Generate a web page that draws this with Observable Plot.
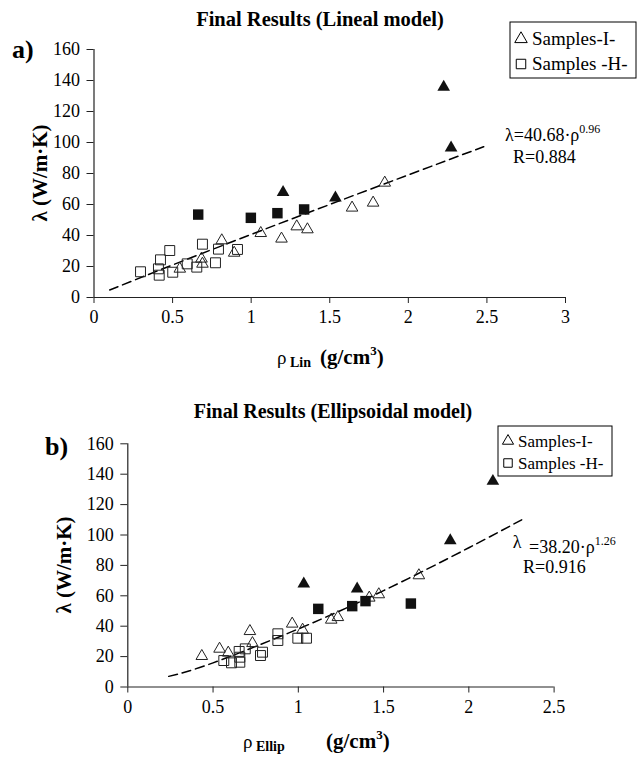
<!DOCTYPE html>
<html>
<head>
<meta charset="utf-8">
<script src="https://cdn.jsdelivr.net/npm/d3@7"></script>
<script src="https://cdn.jsdelivr.net/npm/@observablehq/plot@0.6"></script>
<style>
  html, body { margin: 0; padding: 0; background: #fff; }
  svg { display: block; }
</style>
</head>
<body>
<div id="c"></div>
<script>
// ---------- data ----------
const ticksY = [0, 20, 40, 60, 80, 100, 120, 140, 160];
const ticksXLin = [0, 0.5, 1, 1.5, 2, 2.5, 3];
const ticksXEll = [0, 0.5, 1, 1.5, 2, 2.5];

// (a) Lineal model
const linOpenTri = [[0.546,18.5],[0.684,25],[0.69,21.7],[0.813,36.8],[0.892,28.8],[1.061,41.5],[1.193,37.9],[1.29,45.8],[1.358,43.9],[1.642,57.9],[1.776,61.1],[1.85,74]];
const linFilledTri = [[1.203,67.9],[1.536,64.3],[2.225,135.7],[2.272,96.6]];
const linOpenSq = [[0.296,16.6],[0.41,18.5],[0.415,14.4],[0.423,24.3],[0.482,30.3],[0.501,16.3],[0.593,21.7],[0.654,19.6],[0.69,34.4],[0.773,22.4],[0.792,31.2],[0.913,31]];
const linFilledSq = [[0.663,53.5],[0.998,51.4],[1.167,54.4],[1.337,56.8]];
const linFit = [[0.1,4.8],[0.5,21],[1,40.7],[1.5,60],[2,79.1],[2.48,97.3]];

// (b) Ellipsoidal model
const ellOpenTri = [[0.434,20.3],[0.538,25.1],[0.589,22.5],[0.716,36.7],[0.731,28.8],[0.964,41.6],[1.025,37.6],[1.193,44.2],[1.232,45.9],[1.416,58.7],[1.472,60.9],[1.707,73.4]];
const ellFilledTri = [[1.032,67.9],[1.345,64.6],[1.891,96.4],[2.141,135.4]];
const ellOpenSq = [[0.563,17.4],[0.608,15.9],[0.653,23.4],[0.657,19.6],[0.657,16.3],[0.689,25.1],[0.778,20.7],[0.79,22.9],[0.88,35],[0.88,30.6],[0.997,32.1],[1.048,32.1]];
const ellFilledSq = [[1.117,51.4],[1.316,53.2],[1.394,56.5],[1.66,54.9]];
const ellFit = [[0.24,7],[0.5,15.9],[1,38.2],[1.5,63.4],[2,91.6],[2.31,110]];

const legendLabels = ["Samples-I-", "Samples -H-"];

const SERIF = "'Liberation Serif', 'Times New Roman', serif";

function panel(cfg) {
  const X = d => d[0], Y = d => d[1];
  return Plot.plot({
    width: 637,
    height: cfg.height,
    marginTop: cfg.mt, marginBottom: cfg.mb, marginLeft: cfg.ml, marginRight: cfg.mr,
    style: { fontFamily: SERIF, fontSize: "18px", color: "#000", background: "#fff", overflow: "visible" },
    x: { domain: [0, cfg.xmax] },
    y: { domain: [0, 160] },
    marks: [
      Plot.axisX({ ticks: cfg.xticks, tickSize: 6, tickPadding: 7, tickFormat: d => String(d), label: null, stroke: "#222", fill: "#000" }),
      Plot.axisY({ ticks: ticksY, tickSize: 7, tickPadding: 7, tickFormat: d => String(d), label: null, stroke: "#222", fill: "#000" }),
      Plot.ruleY([0], { stroke: "#222", strokeWidth: 1.2 }),
      Plot.ruleX([0], { stroke: "#222", strokeWidth: 1.2 }),
      Plot.line(cfg.fit, { x: X, y: Y, curve: "natural", stroke: "#000", strokeWidth: 1.5, strokeDasharray: "9,5" }),
      Plot.dot(cfg.openSq, { x: X, y: Y, symbol: "square", r: 5.6, stroke: "#222", strokeWidth: 1, fill: "none" }),
      Plot.dot(cfg.openTri, { x: X, y: Y, symbol: "triangle", r: 4.3, stroke: "#222", strokeWidth: 1, fill: "none" }),
      Plot.dot(cfg.filledSq, { x: X, y: Y, symbol: "square", r: 5.9, fill: "#111", stroke: "none" }),
      Plot.dot(cfg.filledTri, { x: X, y: Y, symbol: "triangle", r: 4.7, fill: "#111", stroke: "none" })
    ]
  });
}

function addText(svg, x, y, parts, anchor) {
  const t = svg.append("text")
    .attr("x", x).attr("y", y)
    .attr("text-anchor", anchor || "start")
    .attr("font-family", SERIF)
    .attr("fill", "#000");
  parts.forEach(p => {
    const s = t.append("tspan").text(p.t)
      .attr("font-size", p.size || 18)
      .attr("font-weight", p.bold ? "bold" : "normal");
    if (p.dy) s.attr("dy", p.dy);
    if (p.x != null) s.attr("x", p.x);
  });
  return t;
}

function addLegend(svg, bx, by, bw, bh, rows, fontSize, symX, textX, symSize) {
  svg.append("rect").attr("x", bx).attr("y", by).attr("width", bw).attr("height", bh)
    .attr("fill", "#fff").attr("stroke", "#000").attr("stroke-width", 1);
  const tri = d3.symbol(d3.symbolTriangle, symSize * 0.75)();
  const sq = d3.symbol(d3.symbolSquare, symSize)();
  [tri, sq].forEach((path, i) => {
    svg.append("path").attr("d", path)
      .attr("transform", `translate(${symX},${rows[i]})`)
      .attr("fill", "none").attr("stroke", "#000").attr("stroke-width", 1);
    svg.append("text").attr("x", textX).attr("y", rows[i]).attr("dy", "0.34em")
      .attr("text-anchor", "start")
      .attr("font-family", SERIF).attr("font-size", fontSize).attr("fill", "#000")
      .text(legendLabels[i]);
  });
}

function yLabel(svg, x, y) {
  svg.append("text")
    .attr("transform", `translate(${x},${y}) rotate(-90)`)
    .attr("text-anchor", "middle").attr("dy", "0.35em")
    .attr("font-family", SERIF).attr("font-size", 21).attr("font-weight", "bold")
    .attr("fill", "#000")
    .text("λ (W/m·K)");
}

const root = document.getElementById("c");

// ---------- panel (a) ----------
const topH = 380;
const chartA = panel({
  height: topH, mt: 49, mb: topH - 297, ml: 93.5, mr: 637 - 565,
  xmax: 3, xticks: ticksXLin,
  openTri: linOpenTri, filledTri: linFilledTri, openSq: linOpenSq, filledSq: linFilledSq, fit: linFit
});
root.appendChild(chartA);
{
  const svg = d3.select(chartA);
  addText(svg, 320, 26, [{ t: "Final Results (Lineal model)", size: 20.5, bold: true }], "middle");
  addText(svg, 12, 58, [{ t: "a)", size: 26, bold: true }]);
  yLabel(svg, 40, 173);
  addText(svg, 277, 364, [
    { t: "ρ", size: 19 },
    { t: " Lin", size: 14, bold: true, dy: 3 },
    { t: "(g/cm", size: 21, bold: true, dy: -3, x: 320 },
    { t: "3", size: 13, bold: true, dy: -9 },
    { t: ")", size: 21, bold: true, dy: 9 }
  ]);
  addText(svg, 505, 141, [
    { t: "λ=40.68·ρ", size: 18 },
    { t: "0.96", size: 12, dy: -8 }
  ]);
  addText(svg, 513, 163, [{ t: "R=0.884", size: 18 }]);
  addLegend(svg, 510, 22, 126, 56, [39, 64], 19, 521, 532, 90);
}

// ---------- panel (b) ----------
const botH = 378, off = 380;
const chartB = panel({
  height: botH, mt: 443.3 - off, mb: botH - (686.5 - off), ml: 127.3, mr: 637 - 553.6,
  xmax: 2.5, xticks: ticksXEll,
  openTri: ellOpenTri, filledTri: ellFilledTri, openSq: ellOpenSq, filledSq: ellFilledSq, fit: ellFit
});
root.appendChild(chartB);
{
  const svg = d3.select(chartB);
  addText(svg, 333, 418 - off, [{ t: "Final Results (Ellipsoidal model)", size: 20, bold: true }], "middle");
  addText(svg, 45, 455 - off, [{ t: "b)", size: 26, bold: true }]);
  yLabel(svg, 64, 565 - off);
  addText(svg, 243, 748 - off, [
    { t: "ρ", size: 19 },
    { t: " Ellip", size: 14, bold: true, dy: 3 },
    { t: "(g/cm", size: 21, bold: true, dy: -3, x: 326 },
    { t: "3", size: 13, bold: true, dy: -9 },
    { t: ")", size: 21, bold: true, dy: 9 }
  ]);
  addText(svg, 517, 548 - off, [{ t: "λ", size: 18 }], "middle");
  addText(svg, 529, 553 - off, [
    { t: "=38.20·ρ", size: 18 },
    { t: "1.26", size: 12, dy: -8 }
  ]);
  addText(svg, 523, 573 - off, [{ t: "R=0.916", size: 18 }]);
  addLegend(svg, 498, 426 - off, 114, 50, [441 - off, 463 - off], 17, 508, 518, 72);
}
</script>
</body>
</html>
